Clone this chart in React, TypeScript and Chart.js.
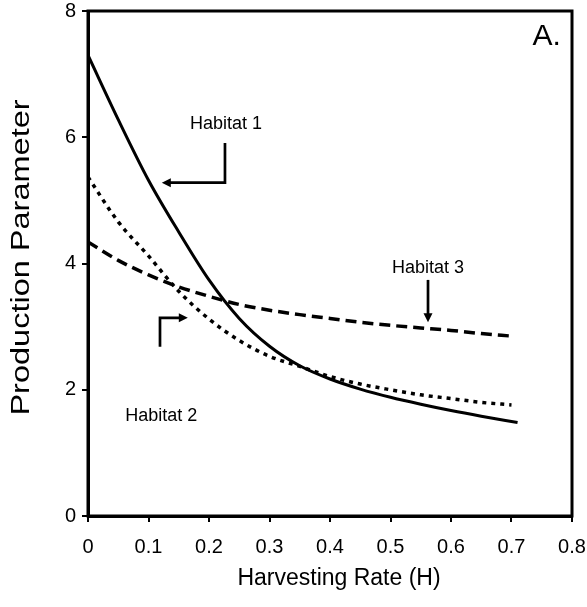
import React, { useEffect, useRef } from "react";
import { Chart, registerables } from "chart.js";

Chart.register(...registerables);

const xTicksMax = 0.8;
const yTicksMax = 8;
const xValues = [0, 0.05, 0.1, 0.15, 0.2, 0.25, 0.3, 0.35, 0.4, 0.45, 0.5, 0.55, 0.6, 0.65, 0.7];
const habitat1X = [0, 0.05, 0.1, 0.15, 0.2, 0.25, 0.3, 0.35, 0.4, 0.45, 0.5, 0.55, 0.6, 0.65, 0.71];
const habitat1 = [7.3, 6.28, 5.32, 4.5, 3.74, 3.13, 2.69, 2.38, 2.17, 2.01, 1.88, 1.77, 1.67, 1.58, 1.48];
const habitat2 = [5.37, 4.66, 4.12, 3.56, 3.12, 2.78, 2.53, 2.37, 2.21, 2.09, 2.0, 1.92, 1.86, 1.8, 1.76];
const habitat3 = [4.34, 4.05, 3.82, 3.63, 3.48, 3.35, 3.26, 3.19, 3.13, 3.07, 3.02, 2.98, 2.94, 2.89, 2.85];
const seriesNames = ["Habitat 1", "Habitat 2", "Habitat 3"];
const panelLabel = "A.";
const xTitle = "Harvesting Rate (H)";
const yTitle = "Production Parameter";

const FONT = "'Liberation Sans', Arial, Helvetica, sans-serif";

function arrowHead(ctx: CanvasRenderingContext2D, x: number, y: number, dir: "left" | "right" | "down") {
  const L = 9, W = 4.5;
  ctx.beginPath();
  if (dir === "left") {
    ctx.moveTo(x, y); ctx.lineTo(x + L, y - W); ctx.lineTo(x + L, y + W);
  } else if (dir === "right") {
    ctx.moveTo(x, y); ctx.lineTo(x - L, y - W); ctx.lineTo(x - L, y + W);
  } else {
    ctx.moveTo(x, y); ctx.lineTo(x - W, y - L); ctx.lineTo(x + W, y - L);
  }
  ctx.closePath();
  ctx.fill();
}

const annotationPlugin = {
  id: "annotations",
  afterDraw(chart: any) {
    const { ctx, chartArea } = chart;
    const xs = chart.scales.x;
    const ys = chart.scales.y;
    const px = (v: number) => xs.getPixelForValue(v);
    const py = (v: number) => ys.getPixelForValue(v);
    ctx.save();
    ctx.strokeStyle = "#000";
    ctx.fillStyle = "#000";
    ctx.lineWidth = 3;
    ctx.strokeRect(chartArea.left, chartArea.top, chartArea.right - chartArea.left, chartArea.bottom - chartArea.top);

    ctx.font = `18px ${FONT}`;
    ctx.textAlign = "center";
    ctx.textBaseline = "middle";
    ctx.fillText(seriesNames[0], px(0.228), py(6.21));
    ctx.fillText(seriesNames[1], px(0.121), py(1.58));
    ctx.fillText(seriesNames[2], px(0.562), py(3.93));

    ctx.lineWidth = 2.7;
    ctx.lineCap = "butt";
    // Habitat 1 bracket
    ctx.beginPath();
    ctx.moveTo(px(0.2264), py(5.91));
    ctx.lineTo(px(0.2264), py(5.28));
    ctx.lineTo(px(0.122) + 8, py(5.28));
    ctx.stroke();
    arrowHead(ctx, px(0.122), py(5.28), "left");
    // Habitat 2 bracket
    ctx.beginPath();
    ctx.moveTo(px(0.119), py(2.68));
    ctx.lineTo(px(0.119), py(3.14));
    ctx.lineTo(px(0.165) - 8, py(3.14));
    ctx.stroke();
    arrowHead(ctx, px(0.165), py(3.14), "right");
    // Habitat 3 arrow
    ctx.beginPath();
    ctx.moveTo(px(0.562), py(3.74));
    ctx.lineTo(px(0.562), py(3.07) - 8);
    ctx.stroke();
    arrowHead(ctx, px(0.562), py(3.07), "down");

    ctx.font = `30px ${FONT}`;
    ctx.fillText(panelLabel, px(0.758), py(7.6));

    // x-axis title
    ctx.font = `23px ${FONT}`;
    ctx.fillText(xTitle, (chartArea.left + chartArea.right) / 2 + 9, 579);

    // y-axis title (stretched along its length like the scanned original)
    ctx.translate(22, (chartArea.top + chartArea.bottom) / 2 - 6);
    ctx.rotate(-Math.PI / 2);
    ctx.scale(1.25, 1);
    ctx.font = `26px ${FONT}`;
    ctx.fillText(yTitle, 0, 0);
    ctx.restore();
  },
};

export default function App() {
  const canvasRef = useRef<HTMLCanvasElement | null>(null);

  useEffect(() => {
    if (!canvasRef.current) return;
    const toPts = (xsArr: number[], ysArr: number[]) => xsArr.map((x, i) => ({ x, y: ysArr[i] }));
    const chart = new Chart(canvasRef.current, {
      type: "line",
      data: {
        datasets: [
          {
            label: seriesNames[0],
            data: toPts(habitat1X, habitat1),
            borderColor: "#000",
            borderWidth: 3,
            pointRadius: 0,
            cubicInterpolationMode: "monotone",
            fill: false,
          },
          {
            label: seriesNames[1],
            data: toPts(xValues, habitat2),
            borderColor: "#000",
            borderWidth: 3.5,
            borderDash: [4, 5],
            pointRadius: 0,
            cubicInterpolationMode: "monotone",
            fill: false,
          },
          {
            label: seriesNames[2],
            data: toPts(xValues, habitat3),
            borderColor: "#000",
            borderWidth: 3.5,
            borderDash: [11, 6],
            pointRadius: 0,
            cubicInterpolationMode: "monotone",
            fill: false,
          },
        ],
      },
      options: {
        animation: false,
        responsive: false,
        maintainAspectRatio: false,
        layout: { padding: { top: 11, right: 15, left: 0, bottom: 0 } },
        plugins: { legend: { display: false }, tooltip: { enabled: false } },
        scales: {
          x: {
            type: "linear",
            min: 0,
            max: xTicksMax,
            afterFit: (s: any) => { s.height = 91; s.paddingLeft = 0; s.paddingRight = 0; },
            border: { color: "#000", width: 3 },
            grid: { drawOnChartArea: false, drawTicks: true, tickLength: 6, color: "#000", lineWidth: 2 },
            ticks: {
              stepSize: 0.1,
              color: "#000",
              font: { size: 20, family: FONT },
              padding: 13,
              maxRotation: 0,
              callback: (v: any) => (Math.abs(v) < 1e-9 ? "0" : Number(v).toFixed(1)),
            },
            title: { display: false },
          },
          y: {
            type: "linear",
            min: 0,
            max: yTicksMax,
            afterFit: (s: any) => { s.width = 88; s.paddingTop = 0; s.paddingBottom = 0; },
            border: { color: "#000", width: 3 },
            grid: { drawOnChartArea: false, drawTicks: true, tickLength: 6, color: "#000", lineWidth: 2 },
            ticks: {
              stepSize: 2,
              color: "#000",
              font: { size: 20, family: FONT },
              padding: 6,
            },
            title: { display: false },
          },
        },
      },
      plugins: [annotationPlugin],
    } as any);
    return () => chart.destroy();
  }, []);

  return (
    <div style={{ position: "absolute", left: 0, top: 0, width: 587, height: 607, background: "#fff" }}>
      <canvas ref={canvasRef} width={587} height={607} style={{ width: 587, height: 607 }} />
    </div>
  );
}
